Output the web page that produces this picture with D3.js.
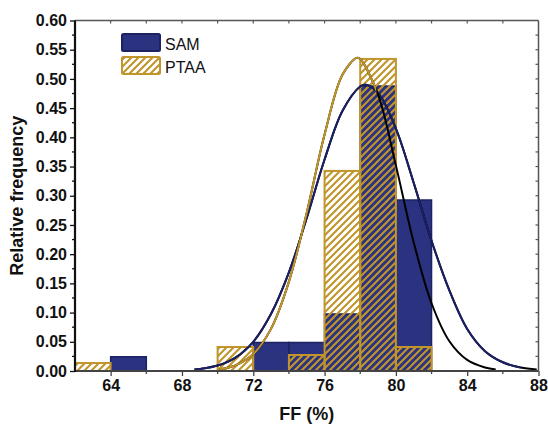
<!DOCTYPE html>
<html><head><meta charset="utf-8">
<script src="https://cdn.jsdelivr.net/npm/d3@7"></script>
<style>body{margin:0;background:#fff}svg{display:block;font-family:"Liberation Sans",Arial,sans-serif}</style>
</head><body><svg id="c" width="548" height="425"></svg>
<script>
// ---- data ----
const binStarts = [62, 64, 66, 68, 70, 72, 74, 76, 78, 80, 82];
const binWidth = 2;
const samFreq  = [0, 0.0244, 0, 0, 0, 0.0488, 0.0488, 0.0976, 0.4878, 0.2927, 0];
const ptaaFreq = [0.0137, 0, 0, 0, 0.0411, 0, 0.0274, 0.3425, 0.5342, 0.0411, 0];
const seriesNames = ["SAM", "PTAA"];
// fitted distribution curves
const samCurveX = [68.7, 69, 70, 71, 72, 73, 74, 75, 76, 77, 78, 78.3, 79, 80, 81, 82, 83, 84, 85, 86, 87, 87.9];
const samCurveY = [0.0025, 0.0034, 0.0093, 0.023, 0.050, 0.098, 0.169, 0.262, 0.362, 0.445, 0.487, 0.490, 0.476, 0.415, 0.322, 0.223, 0.138, 0.072, 0.034, 0.015, 0.006, 0.0025];
const ptaaCurveX = [70.1, 71, 72, 73, 74, 75, 76, 77, 77.8, 78, 79, 80, 81, 82, 83, 84, 85, 85.6];
const ptaaCurveY = [0.003, 0.0097, 0.029, 0.0725, 0.153, 0.271, 0.405, 0.507, 0.536, 0.534, 0.473, 0.352, 0.220, 0.116, 0.051, 0.019, 0.006, 0.0027];
const xTicks = [64, 68, 72, 76, 80, 84, 88];
const yTicks = [0, 0.05, 0.10, 0.15, 0.20, 0.25, 0.30, 0.35, 0.40, 0.45, 0.50, 0.55, 0.60];
const xTitle = "FF (%)";
const yTitle = "Relative frequency";

// ---- layout ----
const L = 75, R = 538.5, T = 20.5, B = 371;
const navy = "#2b3280", navyDark = "#1c2262", navyLine = "#1a1f66", gold = "#c0952b";
const svg = d3.select("#c");
const x = d3.scaleLinear().domain([62, 88]).range([L, R]);
const y = d3.scaleLinear().domain([0, 0.6]).range([B, T]);

const defs = svg.append("defs");
const pat = defs.append("pattern").attr("id", "hatch").attr("patternUnits", "userSpaceOnUse")
  .attr("width", 7).attr("height", 7);
pat.append("path").attr("d", "M-1,1 l2,-2 M0,7 l7,-7 M6,8 l2,-2")
  .attr("stroke", gold).attr("stroke-width", 2.1);
defs.append("clipPath").attr("id", "clipPlot").append("rect")
  .attr("x", L).attr("y", T - 2).attr("width", R - L).attr("height", B - T + 2);
defs.append("clipPath").attr("id", "clipGold").append("rect")
  .attr("x", 0).attr("y", 0).attr("width", x(78.9)).attr("height", 425);
defs.append("clipPath").attr("id", "clipNavy").append("rect")
  .attr("x", 0).attr("y", 0).attr("width", x(87)).attr("height", 425);

const bins = binStarts.map((s, i) => ({s, sam: samFreq[i], ptaa: ptaaFreq[i]}));

// SAM bars
svg.append("g").selectAll("rect").data(bins.filter(d => d.sam > 0)).join("rect")
  .attr("x", d => x(d.s)).attr("y", d => y(d.sam))
  .attr("width", d => x(d.s + binWidth) - x(d.s)).attr("height", d => y(0) - y(d.sam))
  .attr("fill", navy).attr("stroke", navyDark).attr("stroke-width", 1.5);

// PTAA bars
svg.append("g").selectAll("rect").data(bins.filter(d => d.ptaa > 0)).join("rect")
  .attr("x", d => x(d.s)).attr("y", d => y(d.ptaa))
  .attr("width", d => x(d.s + binWidth) - x(d.s)).attr("height", d => y(0) - y(d.ptaa))
  .attr("fill", "url(#hatch)").attr("stroke", gold).attr("stroke-width", 2);

// curves
const line = d3.line().x(d => x(d[0])).y(d => y(d[1])).curve(d3.curveCatmullRom);
const samPts = samCurveX.map((v, i) => [v, samCurveY[i]]);
const ptaaPts = ptaaCurveX.map((v, i) => [v, ptaaCurveY[i]]);
const cg = svg.append("g").attr("clip-path", "url(#clipPlot)");
cg.append("path").attr("d", line(samPts)).attr("fill", "none").attr("stroke", "#000").attr("stroke-width", 2);
cg.append("path").attr("d", line(samPts)).attr("fill", "none").attr("stroke", navyLine).attr("stroke-width", 2)
  .attr("clip-path", "url(#clipNavy)");
cg.append("path").attr("d", line(ptaaPts)).attr("fill", "none").attr("stroke", "#000").attr("stroke-width", 2);
cg.append("path").attr("d", line(ptaaPts)).attr("fill", "none").attr("stroke", gold).attr("stroke-width", 2)
  .attr("clip-path", "url(#clipGold)");

// frame: top & right
const frameCol = "#555";
svg.append("line").attr("x1", L).attr("x2", R).attr("y1", T).attr("y2", T).attr("stroke", frameCol).attr("stroke-width", 1.5);
svg.append("line").attr("x1", R).attr("x2", R).attr("y1", T).attr("y2", B).attr("stroke", frameCol).attr("stroke-width", 1.5);
const topTicks = d3.range(64, 88, 2);
svg.append("g").selectAll("line").data(topTicks).join("line")
  .attr("x1", d => x(d)).attr("x2", d => x(d)).attr("y1", T).attr("y2", T + 3)
  .attr("stroke", frameCol).attr("stroke-width", 1.2);
const rightTicks = d3.range(1, 24).map(i => i * 0.025);
svg.append("g").selectAll("line").data(rightTicks).join("line")
  .attr("x1", R).attr("x2", R - 3).attr("y1", d => y(d)).attr("y2", d => y(d))
  .attr("stroke", frameCol).attr("stroke-width", 1.2);

// bottom axis
const xAxis = d3.axisBottom(x).tickValues(xTicks).tickSize(5).tickPadding(4).tickFormat(d3.format("d"));
const gx = svg.append("g").attr("transform", `translate(0,${B})`).call(xAxis);
gx.select(".domain").attr("stroke", "#444").attr("stroke-width", 2).attr("d", `M${L},0H${R}`);
gx.selectAll(".tick line").attr("stroke", "#444").attr("stroke-width", 1.3);
gx.selectAll("text").attr("font-size", 16).attr("font-weight", "bold").attr("fill", "#111")
  .attr("font-family", "Liberation Sans, Arial, sans-serif");
const xMinor = d3.range(66, 88, 4);
svg.append("g").selectAll("line").data(xMinor).join("line")
  .attr("x1", d => x(d)).attr("x2", d => x(d)).attr("y1", B).attr("y2", B + 3)
  .attr("stroke", "#444").attr("stroke-width", 1.3);

// left axis
const yAxis = d3.axisLeft(y).tickValues(yTicks).tickSize(5).tickPadding(3).tickFormat(d3.format(".2f"));
const gy = svg.append("g").attr("transform", `translate(${L},0)`).call(yAxis);
gy.select(".domain").attr("stroke", "#111").attr("stroke-width", 2.2).attr("d", `M0,${B + 1}V${T}`);
gy.selectAll(".tick line").attr("stroke", "#111").attr("stroke-width", 1.3);
gy.selectAll("text").attr("font-size", 16).attr("font-weight", "bold").attr("fill", "#111")
  .attr("font-family", "Liberation Sans, Arial, sans-serif");
const yMinor = d3.range(0, 12).map(i => 0.025 + i * 0.05);
svg.append("g").selectAll("line").data(yMinor).join("line")
  .attr("x1", L).attr("x2", L - 3).attr("y1", d => y(d)).attr("y2", d => y(d))
  .attr("stroke", "#111").attr("stroke-width", 1.3);

// titles
svg.append("text").attr("x", (L + R) / 2).attr("y", 420).attr("text-anchor", "middle")
  .attr("font-size", 18).attr("font-weight", "bold").attr("fill", "#111").text(xTitle);
svg.append("text").attr("transform", `translate(23,${(T + B) / 2}) rotate(-90)`).attr("text-anchor", "middle")
  .attr("font-size", 18).attr("font-weight", "bold").attr("fill", "#111").text(yTitle);

// legend
const lg = svg.append("g");
const legFills = [navy, "url(#hatch)"], legStrokes = [navyDark, gold];
seriesNames.forEach((n, i) => {
  lg.append("rect").attr("x", 122).attr("y", 34 + i * 23).attr("width", 38).attr("height", 17)
    .attr("rx", 1.5).attr("fill", legFills[i]).attr("stroke", legStrokes[i]).attr("stroke-width", 2);
  lg.append("text").attr("x", 165).attr("y", 50 + i * 22.5).attr("font-size", 16).attr("fill", "#111").text(n);
});
</script></body></html>
